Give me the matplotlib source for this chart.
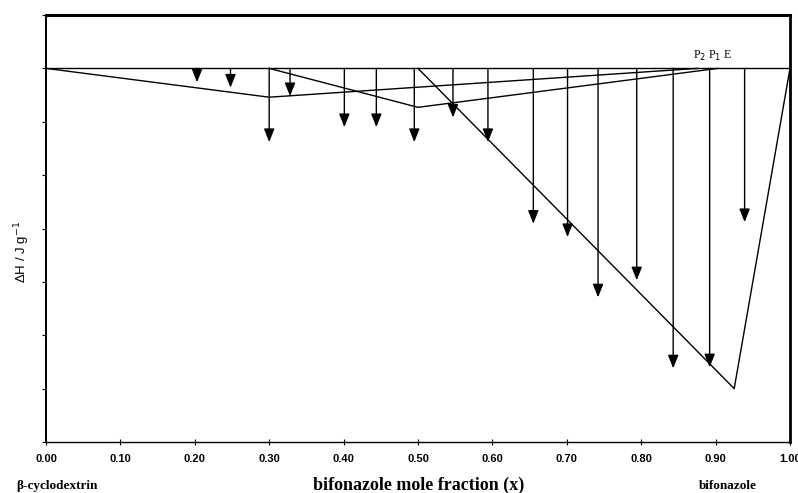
import matplotlib
matplotlib.use("Agg")
import matplotlib.pyplot as plt

# Data
x_ticks = [0.0, 0.1, 0.2, 0.3, 0.4, 0.5, 0.6, 0.7, 0.8, 0.9, 1.0]
x_ticklabels = ["0.00", "0.10", "0.20", "0.30", "0.40", "0.50", "0.60", "0.70", "0.80", "0.90", "1.00"]

# Tammann-type triangle lines
lineA_x = [0.0, 0.30, 0.876]
lineA_y = [0.0, -0.54, 0.0]
lineB_x = [0.30, 0.50, 0.903]
lineB_y = [0.0, -0.73, 0.0]
lineC_x = [0.50, 0.925, 1.0]
lineC_y = [0.0, -6.0, 0.0]

# Arrows (enthalpy values)
arrow_x = [0.203, 0.248, 0.30, 0.328, 0.401, 0.444, 0.495, 0.547, 0.594,
           0.655, 0.701, 0.742, 0.794, 0.843, 0.892, 0.939]
arrow_y = [-0.26, -0.36, -1.38, -0.52, -1.10, -1.10, -1.38, -0.92, -1.38,
           -2.91, -3.16, -4.29, -3.97, -5.62, -5.60, -2.88]

fig = plt.figure(figsize=(7.98, 4.93), dpi=100)
ax = fig.add_axes([46/798, 1-442/493, (790-46)/798, (442-15)/493])
ax.set_xlim(0, 1)
ax.set_ylim(-7, 1)

# zero line
ax.plot([0, 1], [0, 0], color="black", lw=1.0)

for xs, ys in [(lineA_x, lineA_y), (lineB_x, lineB_y), (lineC_x, lineC_y)]:
    ax.plot(xs, ys, color="black", lw=1.0)

for xa, ya in zip(arrow_x, arrow_y):
    ax.annotate("", xy=(xa, ya), xytext=(xa, 0),
                arrowprops=dict(arrowstyle="-|>,head_length=0.8,head_width=0.32",
                                color="black", lw=1.0, shrinkA=0, shrinkB=0),
                annotation_clip=False)

ax.text(0.896, 0.1, "P$_2$ P$_1$ E", fontsize=8.5, family="Liberation Serif",
        ha="center", va="bottom")

ax.set_xticks(x_ticks)
ax.set_xticklabels(x_ticklabels, fontsize=8, fontweight="bold", family="Liberation Sans")
ax.set_yticks(range(-7, 2))
ax.set_yticklabels([])
ax.tick_params(axis="x", direction="inout", length=4, width=0.8, pad=7)
ax.tick_params(axis="y", direction="out", length=3, width=0.8)

ax.spines["top"].set_linewidth(2.2)
ax.spines["right"].set_linewidth(2.0)
ax.spines["left"].set_linewidth(1.4)
ax.spines["bottom"].set_linewidth(1.0)

fig.text(22/798, 1-252/493, "ΔH / J g$^{-1}$", rotation=90, ha="center", va="center",
         fontsize=9.5, family="Liberation Sans")
fig.text(419/798, 1-485/493, "bifonazole mole fraction (x)", ha="center", va="center",
         fontsize=13, fontweight="bold", family="Liberation Serif")
fig.text(57/798, 1-486/493, "β-cyclodextrin", ha="center", va="center",
         fontsize=9.5, fontweight="bold", family="Liberation Serif")
fig.text(728/798, 1-486/493, "bifonazole", ha="center", va="center",
         fontsize=9.5, fontweight="bold", family="Liberation Serif")

fig.savefig("out.png", dpi=100)
